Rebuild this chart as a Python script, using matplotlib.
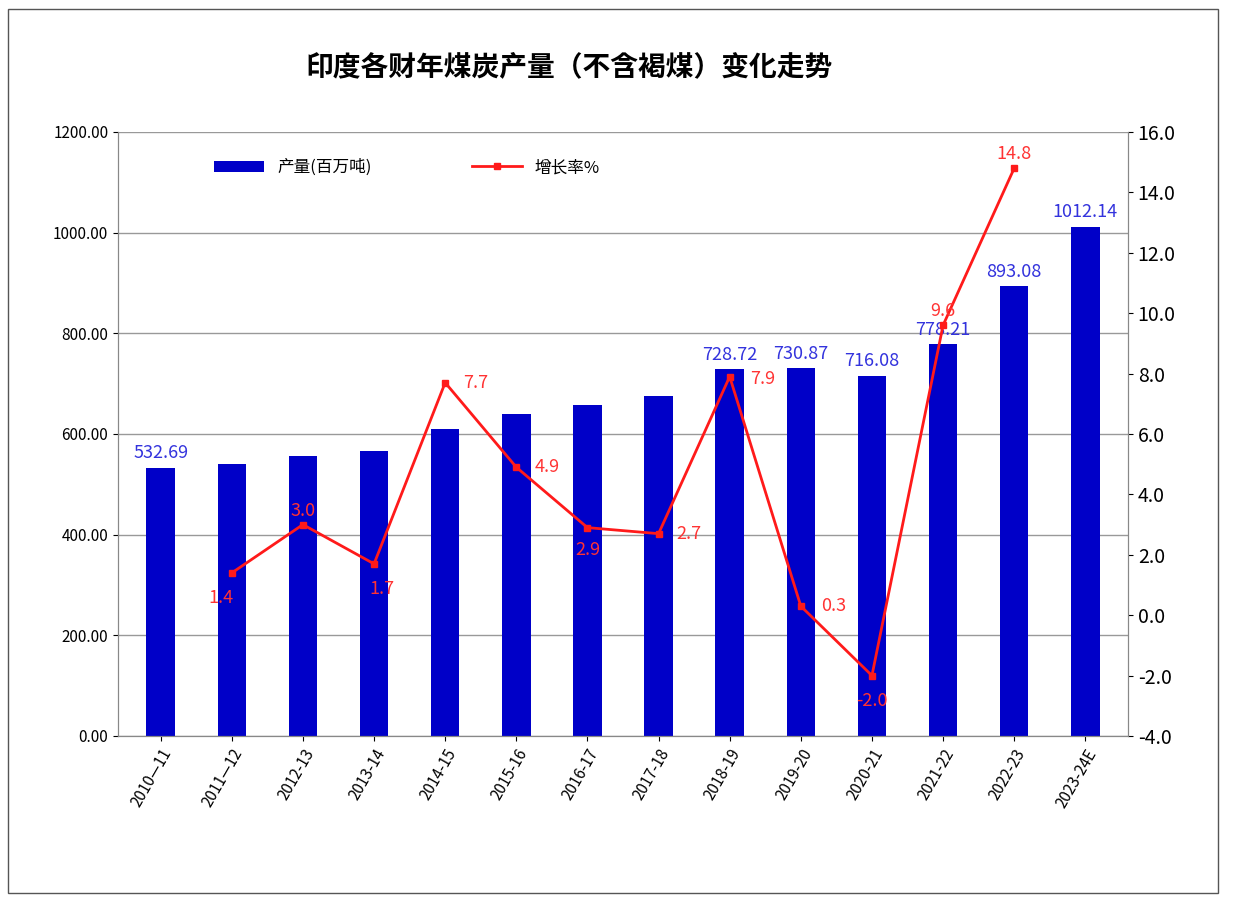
import glob
import matplotlib
matplotlib.use("Agg")
import matplotlib.pyplot as plt
from matplotlib import font_manager
import numpy as np

# make sure a CJK font is registered
cjk_family = None
for f in glob.glob("/usr/share/fonts/**/*CJK*", recursive=True) + \
        glob.glob("/usr/local/share/fonts/**/*CJK*", recursive=True):
    try:
        font_manager.fontManager.addfont(f)
        if cjk_family is None:
            cjk_family = font_manager.FontProperties(fname=f).get_name()
    except Exception:
        pass
fams = ["Noto Sans CJK SC", "Noto Sans CJK JP"]
if cjk_family:
    fams.append(cjk_family)
plt.rcParams["font.family"] = fams + ["DejaVu Sans"]

years = ["2010—11", "2011—12", "2012-13", "2013-14", "2014-15", "2015-16", "2016-17",
         "2017-18", "2018-19", "2019-20", "2020-21", "2021-22", "2022-23", "2023-24E"]
output = [532.69, 540.0, 556.4, 565.8, 609.2, 639.2, 657.9, 675.4, 728.72, 730.87,
          716.08, 778.21, 893.08, 1012.14]
growth = [None, 1.4, 3.0, 1.7, 7.7, 4.9, 2.9, 2.7, 7.9, 0.3, -2.0, 9.6, 14.8, None]
bar_labels = [0, 8, 9, 10, 11, 12, 13]

# label offsets (points) for growth labels
g_off = {1: (-8, -18), 2: (0, 10), 3: (6, -18), 4: (22, 0), 5: (22, 0), 6: (0, -16),
         7: (22, 0), 8: (24, -2), 9: (24, 0), 10: (0, -18), 11: (0, 10), 12: (0, 10)}

fig = plt.figure(figsize=(12.38, 9.02), dpi=100)
fig.patches.append(plt.Rectangle((8 / 1238, 9 / 902), 1210 / 1238, 884 / 902,
                                 transform=fig.transFigure, fill=False,
                                 edgecolor="#555555", linewidth=1))
ax = fig.add_axes([118 / 1238, 166 / 902, 1010 / 1238, 604 / 902])
x = np.arange(len(years))
ax.bar(x, output, width=0.4, color="#0000C8", label="产量(百万吨)", zorder=2)
ax.set_ylim(0, 1200)
ax.set_yticks(np.arange(0, 1201, 200))
ax.set_yticklabels([f"{v:.2f}" for v in range(0, 1201, 200)], fontsize=11)
ax.grid(axis="y", color="#999999", linewidth=1, zorder=0)
ax.set_xlim(-0.6, len(years) - 0.4)
ax.set_xticks(x)
ax.set_xticklabels(years, rotation=60, ha="right", rotation_mode="anchor", fontsize=11)
for i in bar_labels:
    ax.annotate(f"{output[i]:.2f}", (x[i], output[i]), xytext=(0, 4),
                textcoords="offset points", ha="center", va="bottom",
                color="#3333DD", fontsize=13)

ax2 = ax.twinx()
gi = [i for i, g in enumerate(growth) if g is not None]
gv = [growth[i] for i in gi]
ax2.plot(gi, gv, color="#FF1A1A", linewidth=2, marker="s", markersize=5,
         label="增长率%", zorder=3)
ax2.set_ylim(-4, 16)
ax2.set_yticks(np.arange(-4, 16.1, 2))
ax2.set_yticklabels([f"{v:.1f}" for v in np.arange(-4, 16.1, 2)], fontsize=14)
for i, g in zip(gi, gv):
    ax2.annotate(f"{g:.1f}", (i, g), xytext=g_off[i], textcoords="offset points",
                 ha="center", va="center", color="#FF3333", fontsize=13)

for a in (ax, ax2):
    a.spines["top"].set_visible(False)
    for s in ("left", "right", "bottom"):
        a.spines[s].set_color("#888888")

h1, l1 = ax.get_legend_handles_labels()
h2, l2 = ax2.get_legend_handles_labels()
ax.legend(h1 + h2, l1 + l2, loc="upper left", bbox_to_anchor=(0.08, 0.98), ncol=2,
          frameon=False, fontsize=12, columnspacing=6, handlelength=3)

fig.text(0.46, 0.925, "印度各财年煤炭产量（不含褐煤）变化走势", ha="center",
         va="center", fontsize=20, fontweight="bold")
fig.savefig("out.png", dpi=100)
